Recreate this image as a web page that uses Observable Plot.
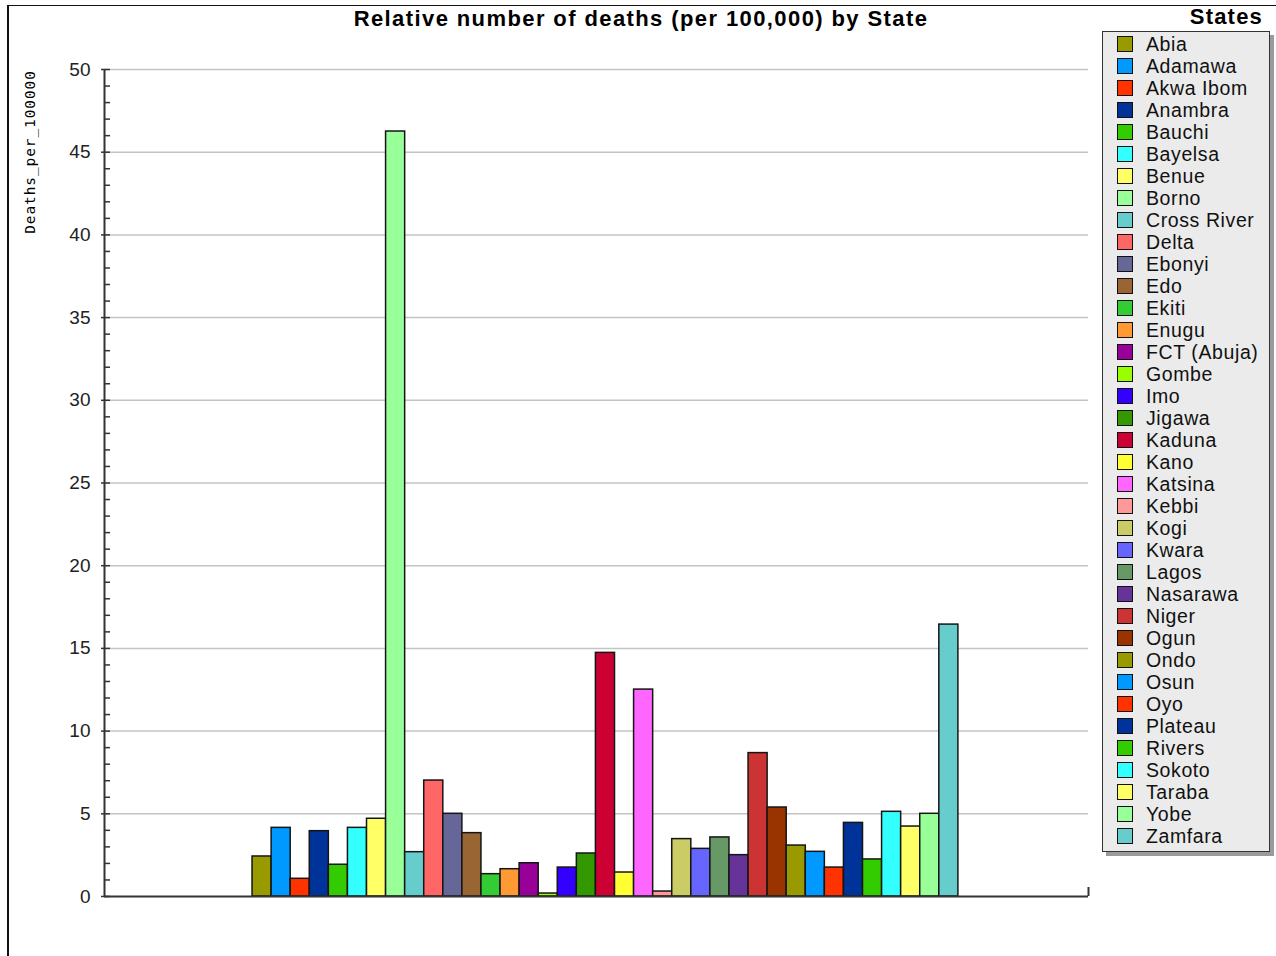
<!DOCTYPE html>
<html><head><meta charset="utf-8">
<script src="https://cdn.jsdelivr.net/npm/d3@7"></script>
<script src="https://cdn.jsdelivr.net/npm/@observablehq/plot@0.6"></script>
<style>
body{margin:0;background:#fff;font-family:"Liberation Sans",Arial,sans-serif;}
#wrap{position:relative;width:1276px;height:956px;overflow:hidden;background:#fff;}
#frame{position:absolute;left:7px;top:5px;width:1300px;height:1000px;border-left:2px solid #111;border-top:1px solid #111;}
#chart{position:absolute;left:0;top:0;}
#title{position:absolute;left:0;width:1282px;top:6px;text-align:center;font-weight:bold;font-size:22px;letter-spacing:1.4px;color:#000;white-space:nowrap;}
#ylabel{position:absolute;left:30px;top:152px;transform:translate(-50%,-50%) rotate(-90deg);font-family:"DejaVu Sans Mono","Liberation Mono",monospace;font-size:14.5px;letter-spacing:0.9px;white-space:nowrap;color:#000;}
#ltitle{position:absolute;right:13px;top:4px;font-weight:bold;font-size:22px;letter-spacing:1.2px;color:#000;}
#legend{position:absolute;left:1102px;top:31px;width:166px;height:819px;background:#ebebeb;border:1px solid #333;box-shadow:4px 4px 0 #9a9a9a;}
.item{position:absolute;left:14px;height:22px;display:flex;align-items:center;font-size:19.5px;letter-spacing:0.6px;color:#111;white-space:nowrap;}
.sw{width:14px;height:14px;border:1.5px solid #111;margin-right:13px;flex:none;}
</style></head>
<body>
<div id="wrap">
  <div id="frame"></div>
  <div id="chart"></div>
  <div id="title">Relative number of deaths (per 100,000) by State</div>
  <div id="ylabel">Deaths_per_100000</div>
  <div id="ltitle">States</div>
  <div id="legend"></div>
</div>
<script>
const states = ["Abia","Adamawa","Akwa Ibom","Anambra","Bauchi","Bayelsa","Benue","Borno","Cross River","Delta","Ebonyi","Edo","Ekiti","Enugu","FCT (Abuja)","Gombe","Imo","Jigawa","Kaduna","Kano","Katsina","Kebbi","Kogi","Kwara","Lagos","Nasarawa","Niger","Ogun","Ondo","Osun","Oyo","Plateau","Rivers","Sokoto","Taraba","Yobe","Zamfara"];
const deaths = [2.42,4.15,1.07,3.95,1.92,4.15,4.70,46.25,2.68,7.01,5.00,3.83,1.35,1.65,2.01,0.18,1.75,2.60,14.73,1.45,12.51,0.30,3.47,2.88,3.57,2.50,8.67,5.38,3.08,2.70,1.75,4.45,2.24,5.12,4.23,5.00,16.44];
const colors = ["#999900","#0099ff","#ff3300","#003399","#33cc00","#33ffff","#ffff66","#99ff99","#66cccc","#ff6666","#666699","#996633","#33cc33","#ff9933","#990099","#99ff00","#3300ff","#339900","#cc0033","#ffff33","#ff66ff","#ff9999","#cccc66","#6666ff","#669966","#663399","#cc3333","#993300","#999900","#0099ff","#ff3300","#003399","#33cc00","#33ffff","#ffff66","#99ff99","#66cccc"];
const yTicks = [0,5,10,15,20,25,30,35,40,45,50];
const yMinor = d3.range(0, 51, 1);
const xDomain = [-7.76, 43.82];

const data = states.map((s, i) => ({state: s, value: deaths[i], color: colors[i], i}));

const chart = Plot.plot({
  width: 1100,
  height: 956,
  marginLeft: 104,
  marginRight: 12,
  marginTop: 69,
  marginBottom: 60,
  style: {fontFamily: "'Liberation Sans', Arial, sans-serif", background: "transparent", color: "#111"},
  x: {domain: xDomain, axis: null},
  y: {domain: [0, 50], axis: null},
  marks: [
    Plot.gridY(yTicks.filter(d => d > 0), {stroke: "#c4c4c4", strokeOpacity: 1, strokeWidth: 1.5}),
    Plot.rectY(data, {x1: d => d.i, x2: d => d.i + 1, y1: 0, y2: "value", fill: "color", stroke: "#151515", strokeWidth: 1.5}),
    Plot.axisY(yMinor, {anchor: "left", label: null, tickSize: -6, tickFormat: () => "", stroke: "#333", strokeWidth: 1.5}),
    Plot.axisY(yTicks, {anchor: "left", label: null, tickSize: 3, tickPadding: 11, fontSize: 19, stroke: "#333", strokeWidth: 1.5, fill: "#222"}),
    Plot.axisX([xDomain[1]], {anchor: "bottom", label: null, tickSize: -9, tickFormat: () => "", stroke: "#333", strokeWidth: 2}),
    Plot.ruleY([0], {stroke: "#333", strokeWidth: 2}),
    Plot.ruleX([xDomain[0]], {stroke: "#333", strokeWidth: 2})
  ]
});
document.getElementById("chart").appendChild(chart);

const legend = d3.select("#legend");
states.forEach((s, i) => {
  const it = legend.append("div").attr("class", "item").style("top", (1 + i * 22) + "px");
  it.append("div").attr("class", "sw").style("background", colors[i]);
  it.append("span").text(s);
});
</script>
</body></html>
